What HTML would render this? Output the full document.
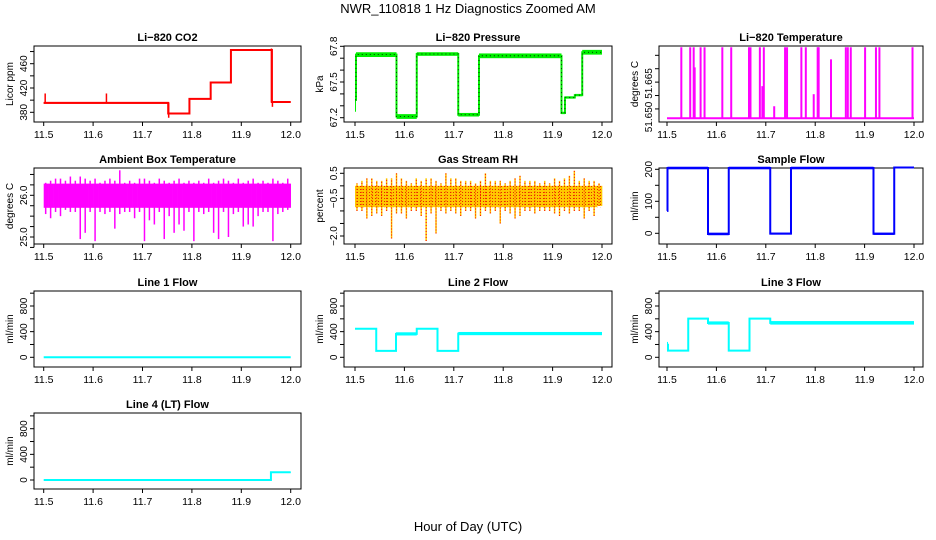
<!DOCTYPE html>
<html><head><meta charset="utf-8"><style>
html,body{margin:0;padding:0;background:#fff}
svg{display:block}
text{font-family:"Liberation Sans",Arial,sans-serif;fill:#000}
</style></head><body>
<svg id="chart" width="936" height="540" viewBox="0 0 936 540" xmlns="http://www.w3.org/2000/svg">
<text x="468" y="13" font-size="13" text-anchor="middle">NWR_110818  1 Hz Diagnostics Zoomed AM</text>
<text x="468" y="531" font-size="13" text-anchor="middle">Hour of Day (UTC)</text>
</svg>
<script>
// ---- data ----
const xTicks = [11.5, 11.6, 11.7, 11.8, 11.9, 12.0];
const xTickLabels = ["11.5", "11.6", "11.7", "11.8", "11.9", "12.0"];

const co2Start = [11.5, 11.752, 11.795, 11.838, 11.879, 11.962];
const co2End   = [11.752, 11.795, 11.838, 11.879, 11.962, 12.0];
const co2Lo    = [394, 377, 401, 428, 481, 396];
const co2Hi    = [397, 379, 403, 430, 484, 398];
const co2SpikeX = [11.503, 11.627, 11.753, 11.961, 11.963];
const co2SpikeY = [411, 411, 371, 485, 389];

const presStart = [11.5, 11.502, 11.584, 11.625, 11.709, 11.751, 11.918, 11.925, 11.945, 11.96];
const presEnd   = [11.502, 11.584, 11.625, 11.709, 11.751, 11.918, 11.925, 11.945, 11.96, 12.0];
const presLo    = [67.25, 67.71, 67.19, 67.72, 67.21, 67.70, 67.23, 67.36, 67.38, 67.73];
const presHi    = [67.45, 67.75, 67.23, 67.75, 67.24, 67.74, 67.25, 67.38, 67.40, 67.77];

const tempSpikeX = [11.529, 11.547, 11.554, 11.556, 11.568, 11.576, 11.612, 11.630, 11.666, 11.669, 11.688, 11.693, 11.696, 11.717, 11.739, 11.743, 11.772, 11.781, 11.797, 11.805, 11.807, 11.832, 11.862, 11.866, 11.872, 11.901, 11.923, 11.930, 11.997];
const tempSpikeY = [51.6765, 51.6765, 51.6765, 51.6690, 51.6765, 51.6765, 51.6765, 51.6765, 51.6765, 51.6765, 51.6765, 51.6620, 51.6765, 51.6545, 51.6765, 51.6765, 51.6765, 51.6765, 51.6590, 51.6765, 51.6765, 51.6720, 51.6765, 51.6765, 51.6765, 51.6765, 51.6765, 51.6765, 51.6765];
const tempBase = 51.650;

const ambLo = [25.55,25.45,25.6,25.5,25.65,25.6,25.6,24.95,25.1,25.6, 24.9,25.6,25.55,25.6,25.2,25.55,25.6,25.6,25.45,25.6, 24.9,25.4,25.3,25.6,24.95,25.5,25.1,25.3,25.15,25.6, 24.9,25.6,25.55,25.6,25.1,24.95,25.6,25.0,25.55,25.6, 25.25,25.3,25.25,25.5,25.6,25.6,24.9,25.55,25.6,25.65];
const ambHi = [26.3,26.35,26.4,26.4,26.35,26.45,26.35,26.45,26.4,26.35, 26.4,26.3,26.35,26.4,26.35,26.6,26.3,26.35,26.3,26.4, 26.4,26.35,26.3,26.4,26.35,26.3,26.35,26.4,26.3,26.35, 26.3,26.35,26.3,26.4,26.3,26.35,26.4,26.35,26.3,26.4, 26.3,26.35,26.4,26.3,26.35,26.3,26.4,26.35,26.3,26.4];

const rhLo = [-1.0,-1.0,-1.3,-1.2,-1.1,-1.2,-1.0,-2.1,-1.1,-1.1, -1.3,-1.0,-1.0,-1.2,-2.2,-1.1,-1.9,-1.0,-1.1,-1.0, -1.1,-1.2,-1.0,-1.0,-1.3,-1.2,-1.0,-1.1,-1.0,-1.5, -1.0,-1.1,-1.3,-1.2,-1.0,-1.0,-1.1,-1.0,-1.0,-1.0, -1.1,-1.2,-1.0,-1.1,-1.0,-1.0,-1.3,-1.0,-1.2,-0.8];
const rhHi = [0.1,0.2,0.3,0.3,0.2,0.2,0.3,0.3,0.5,0.3, 0.2,0.1,0.3,0.2,0.3,0.3,0.2,0.1,0.5,0.3, 0.3,0.2,0.2,0.2,0.1,0.2,0.5,0.2,0.2,0.2, 0.1,0.2,0.3,0.4,0.2,0.2,0.2,0.1,0.2,0.1, 0.3,0.2,0.3,0.4,0.6,0.2,0.3,0.2,0.2,0.1];

const sfStart = [11.5, 11.501, 11.583, 11.625, 11.709, 11.751, 11.918, 11.96];
const sfEnd   = [11.501, 11.583, 11.625, 11.709, 11.751, 11.918, 11.96, 12.0];
const sfLo    = [70, 200, -6, 200, -4, 200, -5, 203];
const sfHi    = [70, 208, 2, 208, 2, 208, 2, 208];

const l1Start = [11.5];
const l1End   = [12.0];
const l1Lo    = [0];
const l1Hi    = [0];

const l2Start = [11.5, 11.543, 11.583, 11.625, 11.667, 11.709];
const l2End   = [11.543, 11.583, 11.625, 11.667, 11.709, 12.0];
const l2Lo    = [440, 100, 340, 440, 100, 345];
const l2Hi    = [450, 100, 390, 450, 100, 395];

const l3Start = [11.5, 11.502, 11.543, 11.583, 11.625, 11.667, 11.709];
const l3End   = [11.502, 11.543, 11.583, 11.625, 11.667, 11.709, 12.0];
const l3Lo    = [150, 100, 590, 510, 100, 590, 510];
const l3Hi    = [240, 110, 615, 560, 110, 615, 565];

const l4Start = [11.5, 11.96];
const l4End   = [11.96, 12.0];
const l4Lo    = [0, 115];
const l4Hi    = [0, 125];

// ---- layout ----
const NS = "http://www.w3.org/2000/svg";
const svg = document.getElementById("chart");
const cols = [{l:34,r:301,x0:43.7,x1:290.7},{l:344,r:612,x0:355,x1:602},{l:659,r:923,x0:667,x1:914}];
const rows = [{t:46,b:122},{t:168,b:244},{t:291,b:367},{t:413,b:489}];

function mk(tag, attrs, parent){
  const e = document.createElementNS(NS, tag);
  for (const k in attrs) e.setAttribute(k, attrs[k]);
  (parent||svg).appendChild(e);
  return e;
}

function panel(name, title, ci, ri, ylab, yv0, yp0, yv1, yp1, ticks, labels){
  const c = cols[ci], r = rows[ri];
  const g = mk("g", {});
  
  
  const xs = v => c.x0 + (v - 11.5) / 0.5 * (c.x1 - c.x0);
  const ys = v => yp0 + (v - yv0) / (yv1 - yv0) * (yp1 - yp0);
  const t = mk("text", {x:(c.l+c.r)/2, y:r.t-5, "font-size":11, "font-weight":"bold", "text-anchor":"middle"}, g);
  t.textContent = title;
  
  
  const box = mk("rect", {x:c.l, y:r.t, width:c.r-c.l, height:r.b-r.t, fill:"none", stroke:"#000", "stroke-width":1}, g);
  
  
  const xa = mk("g", {}, g);
  
  
  mk("line", {x1:xs(xTicks[0]), x2:xs(xTicks[xTicks.length-1]), y1:r.b, y2:r.b, stroke:"#000"}, xa);
  xTicks.forEach((v,i)=>{
    mk("line", {x1:xs(v), x2:xs(v), y1:r.b, y2:r.b+4, stroke:"#000"}, xa);
    const tl = mk("text", {x:xs(v), y:r.b+16, "font-size":10.5, "text-anchor":"middle"}, xa);
    tl.textContent = xTickLabels[i];
  });
  const ya = mk("g", {}, g);
  
  
  mk("line", {x1:c.l, x2:c.l, y1:ys(ticks[0]), y2:ys(ticks[ticks.length-1]), stroke:"#000"}, ya);
  ticks.forEach(v=>{
    mk("line", {x1:c.l-4, x2:c.l, y1:ys(v), y2:ys(v), stroke:"#000"}, ya);
  });
  labels.forEach(([v,s])=>{
    const tl = mk("text", {x:0, y:0, "font-size":10, "text-anchor":"middle", transform:`translate(${c.l-7},${ys(v)}) rotate(-90)`}, ya);
    tl.textContent = s;
  });
  const yl = mk("text", {x:0, y:0, "font-size":10, "text-anchor":"middle", transform:`translate(${c.l-21},${(r.t+r.b)/2}) rotate(-90)`}, g);
  yl.textContent = ylab;
  
  
  const data = mk("g", {}, g);
  
  
  return {xs, ys, g:data};
}

function steps(p, S, E, L, H, color, dotted){
  let d = "";
  for (let i=0;i<S.length;i++){
    const mid = (L[i]+H[i])/2;
    if (i===0) d += `M${p.xs(S[i])},${p.ys(mid)}`;
    else d += `L${p.xs(S[i])},${p.ys(mid)}`;
    d += `L${p.xs(E[i])},${p.ys(mid)}`;
    if (H[i]-L[i] > 0) {
      const rc = mk("rect", {x:p.xs(S[i]), y:p.ys(H[i]), width:p.xs(E[i])-p.xs(S[i]), height:Math.max(1, p.ys(L[i])-p.ys(H[i])), fill:color}, p.g);
      
      
    }
  }
  const pa = mk("path", {d, fill:"none", stroke:color, "stroke-width":2}, p.g);
  
  
  if (dotted) {
    const pd = mk("path", {d, fill:"none", stroke:"#000", "stroke-width":0.8, "stroke-dasharray":"1,3"}, p.g);
    
    
  }
}

// CO2
let p = panel("co2", "Li\u2212820 CO2", 0, 0, "Licor ppm", 380, 112.3, 460, 63.7, [380,400,420,440,460,480], [[380,"380"],[420,"420"],[460,"460"]]);
steps(p, co2Start, co2End, co2Lo, co2Hi, "#ff0000", false);
co2SpikeX.forEach((x,i)=>{
  const l = mk("line", {x1:p.xs(x), x2:p.xs(x), y1:p.ys(396), y2:p.ys(co2SpikeY[i]), stroke:"#ff0000", "stroke-width":1.5}, p.g);
  
  
});

// Pressure
p = panel("pressure", "Li\u2212820 Pressure", 1, 0, "kPa", 67.2, 117.7, 67.8, 46.3, [67.2,67.3,67.4,67.5,67.6,67.7,67.8], [[67.2,"67.2"],[67.5,"67.5"],[67.8,"67.8"]]);
steps(p, presStart, presEnd, presLo, presHi, "#00ee00", true);

// Temperature
p = panel("temperature", "Li\u2212820 Temperature", 2, 0, "degrees C", 51.650, 118.3, 51.665, 78.1, [51.6535,51.6585,51.6635,51.6685,51.6735], [[51.6505,"51.650"],[51.6630,"51.665"]]);
const bl = mk("line", {x1:p.xs(11.5), x2:p.xs(12.0), y1:p.ys(tempBase), y2:p.ys(tempBase), stroke:"#ff00ff", "stroke-width":2}, p.g);


tempSpikeX.forEach((x,i)=>{
  const l = mk("line", {x1:p.xs(x), x2:p.xs(x), y1:p.ys(tempBase), y2:p.ys(tempSpikeY[i]), stroke:"#ff00ff", "stroke-width":2}, p.g);
  
  
});

// Ambient
p = panel("ambient", "Ambient Box Temperature", 0, 1, "degrees C", 25.0, 237, 26.0, 195.3, [24.75,25.0,25.25,25.5,25.75,26.0,26.25,26.5], [[25.0,"25.0"],[26.0,"26.0"]]);
function noisy(p, lo, hi, cLo, cHi, color, dots){
  const n = lo.length, w = 0.5/n;
  for (let i=0;i<n;i++){
    const x0 = 11.5 + i*w, x1 = x0 + w;
    const r1 = mk("rect", {x:p.xs(x0), y:p.ys(Math.min(hi[i],cHi)), width:p.xs(x1)-p.xs(x0)+0.3, height:p.ys(Math.max(lo[i],cLo))-p.ys(Math.min(hi[i],cHi)), fill:color}, p.g);
    
    
    const l = mk("line", {x1:p.xs(x0+w*0.4), x2:p.xs(x0+w*0.4), y1:p.ys(lo[i]), y2:p.ys(hi[i]), stroke:color, "stroke-width":1.5}, p.g);
    
    
    if (dots) {
      const l2 = mk("line", {x1:p.xs(x0+w*0.4), x2:p.xs(x0+w*0.4), y1:p.ys(lo[i]), y2:p.ys(hi[i]), stroke:"#ff0000", "stroke-width":1, "stroke-dasharray":"1,2"}, p.g);
      
      
    }
  }
}
noisy(p, ambLo, ambHi, 25.7, 26.28, "#ff00ff", false);

// RH
p = panel("rh", "Gas Stream RH", 1, 1, "percent", -2.0, 236, 0.5, 173.3, [-2.0,-1.5,-1.0,-0.5,0,0.5], [[-2.0,"\u22122.0"],[-0.5,"\u22120.5"],[0.5,"0.5"]]);
noisy(p, rhLo, rhHi, -0.85, 0.0, "#ffc800", true);
const rhPat = mk("rect", {x:p.xs(11.5), y:p.ys(0.0), width:p.xs(12.0)-p.xs(11.5), height:p.ys(-0.85)-p.ys(0.0), fill:"url(#rhdots)"}, p.g);


const defs = mk("defs", {});
const pat = mk("pattern", {id:"rhdots", width:3, height:3, patternUnits:"userSpaceOnUse"}, defs);
mk("rect", {x:0, y:0, width:1, height:1, fill:"#e03000"}, pat);

// Sample flow
p = panel("sample-flow", "Sample Flow", 2, 1, "ml/min", 0, 233.3, 200, 169.3, [0,50,100,150,200], [[0,"0"],[100,"100"],[200,"200"]]);
steps(p, sfStart, sfEnd, sfLo, sfHi, "#0000ff", false);

const flowTicks = [0,200,400,600,800,1000];
const flowLabels = [[0,"0"],[400,"400"],[800,"800"]];
p = panel("line1-flow", "Line 1 Flow", 0, 2, "ml/min", 0, 357.3, 800, 306, flowTicks, flowLabels);
steps(p, l1Start, l1End, l1Lo, l1Hi, "#00ffff", false);
p = panel("line2-flow", "Line 2 Flow", 1, 2, "ml/min", 0, 357.3, 800, 306, flowTicks, flowLabels);
steps(p, l2Start, l2End, l2Lo, l2Hi, "#00ffff", false);
p = panel("line3-flow", "Line 3 Flow", 2, 2, "ml/min", 0, 357.3, 800, 306, flowTicks, flowLabels);
steps(p, l3Start, l3End, l3Lo, l3Hi, "#00ffff", false);
p = panel("line4-flow", "Line 4 (LT) Flow", 0, 3, "ml/min", 0, 480, 800, 428.7, flowTicks, flowLabels);
steps(p, l4Start, l4End, l4Lo, l4Hi, "#00ffff", false);
</script>
</body></html>
